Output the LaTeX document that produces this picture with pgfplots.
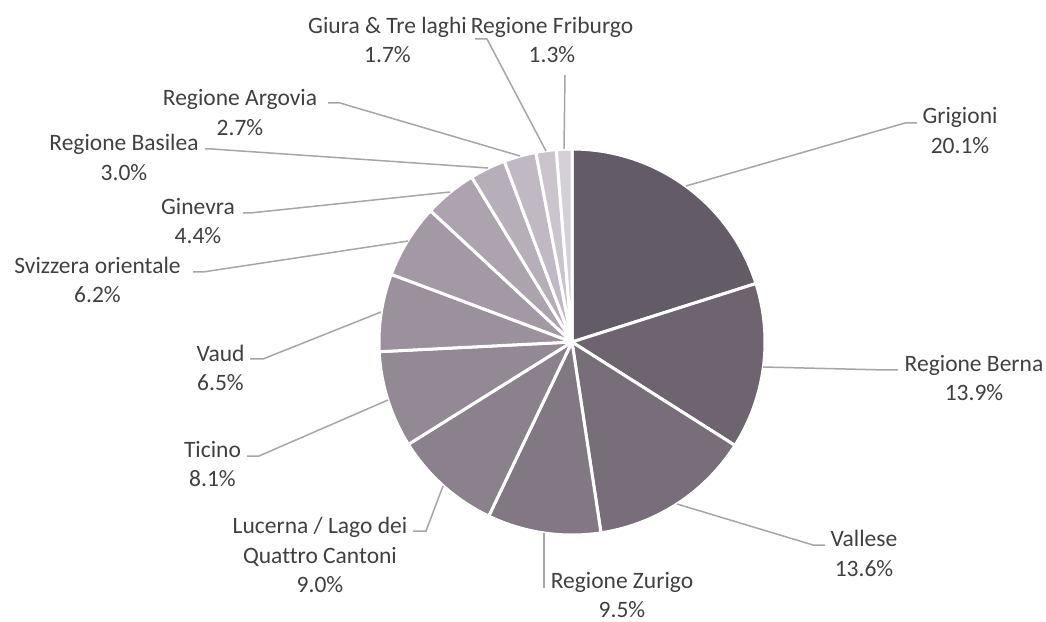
\documentclass[border=0pt]{standalone}
\usepackage{pgfplots}
\usepackage{pgfplotstable}
\pgfplotsset{compat=1.18}
\usepackage{fontspec}
\setmainfont{Carlito}[Ligatures={NoCommon}]

\definecolor{slice0}{RGB}{99,91,102}
\definecolor{slice1}{RGB}{109,100,111}
\definecolor{slice2}{RGB}{119,110,121}
\definecolor{slice3}{RGB}{129,120,131}
\definecolor{slice4}{RGB}{138,129,140}
\definecolor{slice5}{RGB}{146,137,148}
\definecolor{slice6}{RGB}{154,145,157}
\definecolor{slice7}{RGB}{162,153,165}
\definecolor{slice8}{RGB}{172,163,175}
\definecolor{slice9}{RGB}{182,174,185}
\definecolor{slice10}{RGB}{192,185,195}
\definecolor{slice11}{RGB}{202,196,205}
\definecolor{slice12}{RGB}{213,208,215}
\definecolor{txt}{RGB}{64,64,64}
\definecolor{lead}{RGB}{166,166,166}

\tikzset{lbl/.style={font=\fontsize{11.75}{14.6}\selectfont, text=txt, align=center, inner sep=0pt}}

\pgfplotstableread{
value
20.1
13.9
13.6
9.5
9.0
8.1
6.5
6.2
4.4
3.0
2.7
1.7
1.3
}\piedata

\begin{document}
\begin{tikzpicture}
\begin{axis}[
  scale only axis,
  width=523pt, height=311pt,
  xmin=-572, xmax=474, ymin=-280, ymax=342,
  hide axis, clip=false,
  leader/.style={lead, line width=0.75pt, no marks},
]
\pgfplotstablegetrowsof{\piedata}
\pgfmathtruncatemacro{\N}{\pgfplotsretval-1}
\def\cum{0}
\pgfplotsforeachungrouped \i in {0,...,\N}{%
  \pgfplotstablegetelem{\i}{value}\of\piedata
  \let\v\pgfplotsretval
  \pgfmathsetmacro{\a}{90-3.6*\cum}%
  \pgfmathsetmacro{\b}{90-3.6*(\cum+\v)}%
  \pgfmathsetmacro{\cum}{\cum+\v}%
  \edef\doit{\noexpand\addplot[fill=slice\i, draw=white, line width=1.5pt, line join=round, domain=\b:\a, samples=60, variable=\noexpand\t] ({193*cos(\noexpand\t)},{193*sin(\noexpand\t)}) -- (axis cs:0,0) -- cycle;}%
  \doit
}

% leader lines
\addplot[leader] coordinates {(114,156) (333,219) (345,219)};
\addplot[leader] coordinates {(191,-25) (314,-28) (326,-28)};
\addplot[leader] coordinates {(105,-162) (241,-203) (253,-203)};
\addplot[leader] coordinates {(-28,-191) (-28,-246)};
\addplot[leader] coordinates {(-129,-144) (-146,-189) (-159,-189)};
\addplot[leader] coordinates {(-184,-58) (-313,-114) (-325,-114)};
\addplot[leader] coordinates {(-191,30) (-309,-17) (-322,-17)};
\addplot[leader] coordinates {(-164,101) (-369,70) (-379,70)};
\addplot[leader] coordinates {(-122,150) (-322,129) (-329,129)};
\addplot[leader] coordinates {(-84,174) (-360,193) (-367,193)};
\addplot[leader] coordinates {(-52,186) (-232,239) (-244,239)};
\addplot[leader] coordinates {(-26,191) (-85,303) (-97,303)};
\addplot[leader] coordinates {(-8,193) (-7,267)};

% labels
\node[lbl] at (axis cs:388,211.5) {Grigioni\\20.1\%};
\node[lbl] at (axis cs:402,-36) {Regione Berna\\13.9\%};
\node[lbl] at (axis cs:292,-211.5) {Vallese\\13.6\%};
\node[lbl] at (axis cs:50,-253) {Regione Zurigo\\9.5\%};
\node[lbl] at (axis cs:-252,-213) {Lucerna / Lago dei\\Quattro Cantoni\\9.0\%};
\node[lbl] at (axis cs:-359.5,-122) {Ticino\\8.1\%};
\node[lbl] at (axis cs:-351.5,-26) {Vaud\\6.5\%};
\node[lbl] at (axis cs:-474.5,62) {Svizzera orientale\\6.2\%};
\node[lbl] at (axis cs:-374,121) {Ginevra\\4.4\%};
\node[lbl] at (axis cs:-448,184.5) {Regione Basilea\\3.0\%};
\node[lbl] at (axis cs:-332,229.5) {Regione Argovia\\2.7\%};
\node[lbl] at (axis cs:-184.5,302) {Giura \& Tre laghi\\1.7\%};
\node[lbl] at (axis cs:-20,302) {Regione Friburgo\\1.3\%};
\end{axis}
\pgfresetboundingbox
\path (current axis.south west) rectangle (current axis.north east);
\end{tikzpicture}
\end{document}
